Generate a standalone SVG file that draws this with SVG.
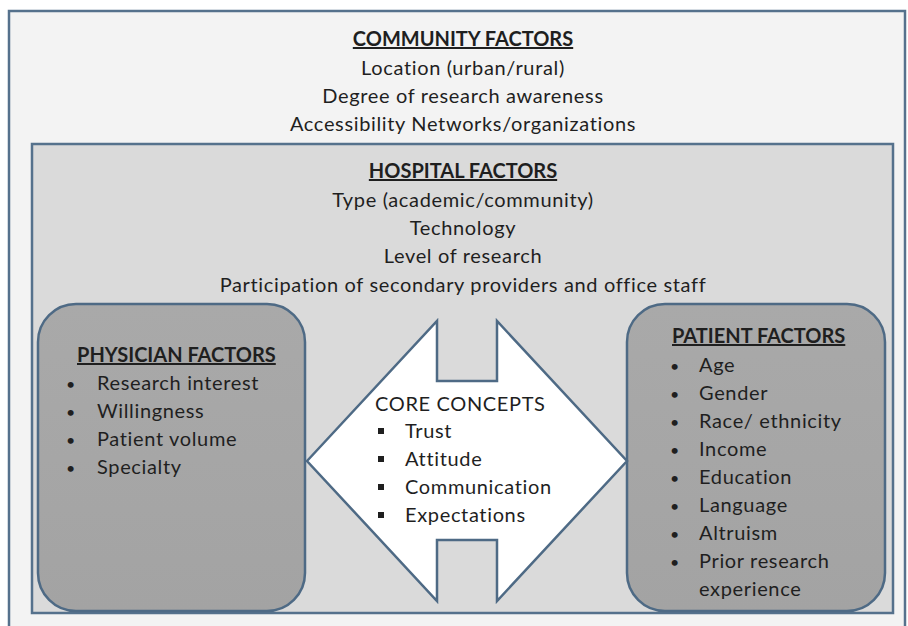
<svg xmlns="http://www.w3.org/2000/svg" width="908" height="626" viewBox="0 0 908 626">
  <defs>
    <linearGradient id="boxFill" x1="0" y1="0" x2="0" y2="1">
      <stop offset="0" stop-color="#a9a9a9"/>
      <stop offset="1" stop-color="#a3a3a3"/>
    </linearGradient>
  </defs>
  <style>
    text { font-family: "Lato", "Liberation Sans", sans-serif; font-size: 20px; letter-spacing: 0.65px; fill: #1f1f1f; }
    .title { font-weight: bold; text-decoration: underline; letter-spacing: 0; }
    .mid { text-anchor: middle; }
    .frame { stroke: #55718c; stroke-width: 2.5; }
    .factor { fill: url(#boxFill); stroke: #4e6a85; stroke-width: 2.5; }
    .bullet { font-size: 16px; letter-spacing: 0; }
    .sq { fill: #1f1f1f; }
  </style>

  <rect width="908" height="626" fill="#ffffff"/>

  <!-- community factors: outermost layer -->
  <g id="community">
    <rect class="frame" x="9" y="11" width="896" height="640" fill="#f3f3f3"/>
    <text class="title mid" x="463" y="46">COMMUNITY FACTORS</text>
    <text class="mid" x="463" y="75">Location (urban/rural)</text>
    <text class="mid" x="463" y="103">Degree of research awareness</text>
    <text class="mid" x="463" y="131">Accessibility Networks/organizations</text>
  </g>

  <!-- hospital factors -->
  <g id="hospital">
    <rect class="frame" x="32" y="144" width="861" height="469" fill="#dadada" stroke="#4d5a68"/>
    <text class="title mid" x="463" y="178">HOSPITAL FACTORS</text>
    <text class="mid" x="463" y="207">Type (academic/community)</text>
    <text class="mid" x="463" y="235">Technology</text>
    <text class="mid" x="463" y="263">Level of research</text>
    <text class="mid" x="463" y="292">Participation of secondary providers and office staff</text>
  </g>

  <!-- physician factors -->
  <g id="physician">
    <rect class="factor" x="38" y="304" width="267" height="307" rx="38" ry="38"/>
    <text class="title" x="77" y="362">PHYSICIAN FACTORS</text>
    <text class="bullet" x="66" y="390">•</text><text x="97" y="390">Research interest</text>
    <text class="bullet" x="66" y="418">•</text><text x="97" y="418">Willingness</text>
    <text class="bullet" x="66" y="446">•</text><text x="97" y="446">Patient volume</text>
    <text class="bullet" x="66" y="474">•</text><text x="97" y="474">Specialty</text>
  </g>

  <!-- patient factors -->
  <g id="patient">
    <rect class="factor" x="627" y="304" width="258" height="307" rx="38" ry="38"/>
    <text class="title" x="672" y="343">PATIENT FACTORS</text>
    <text class="bullet" x="670" y="372">•</text><text x="699" y="372">Age</text>
    <text class="bullet" x="670" y="400">•</text><text x="699" y="400">Gender</text>
    <text class="bullet" x="670" y="428">•</text><text x="699" y="428">Race/ ethnicity</text>
    <text class="bullet" x="670" y="456">•</text><text x="699" y="456">Income</text>
    <text class="bullet" x="670" y="484">•</text><text x="699" y="484">Education</text>
    <text class="bullet" x="670" y="512">•</text><text x="699" y="512">Language</text>
    <text class="bullet" x="670" y="540">•</text><text x="699" y="540">Altruism</text>
    <text class="bullet" x="670" y="568">•</text><text x="699" y="568">Prior research</text>
    <text x="699" y="596">experience</text>
  </g>

  <!-- connectors: two-way arrow carrying the core concepts -->
  <g id="connectors">
    <polygon points="307,461 437,321 437,381 497,381 497,321 627,461 497,601 497,540 437,540 437,601"
             fill="#ffffff" stroke="#4e6a85" stroke-width="2.5" stroke-linejoin="miter"/>
  </g>

  <g id="core">
    <text x="375" y="411">CORE CONCEPTS</text>
    <rect class="sq" x="378" y="428" width="6" height="6"/><text x="405" y="438">Trust</text>
    <rect class="sq" x="378" y="456" width="6" height="6"/><text x="405" y="466">Attitude</text>
    <rect class="sq" x="378" y="484" width="6" height="6"/><text x="405" y="494">Communication</text>
    <rect class="sq" x="378" y="512" width="6" height="6"/><text x="405" y="522">Expectations</text>
  </g>
</svg>
